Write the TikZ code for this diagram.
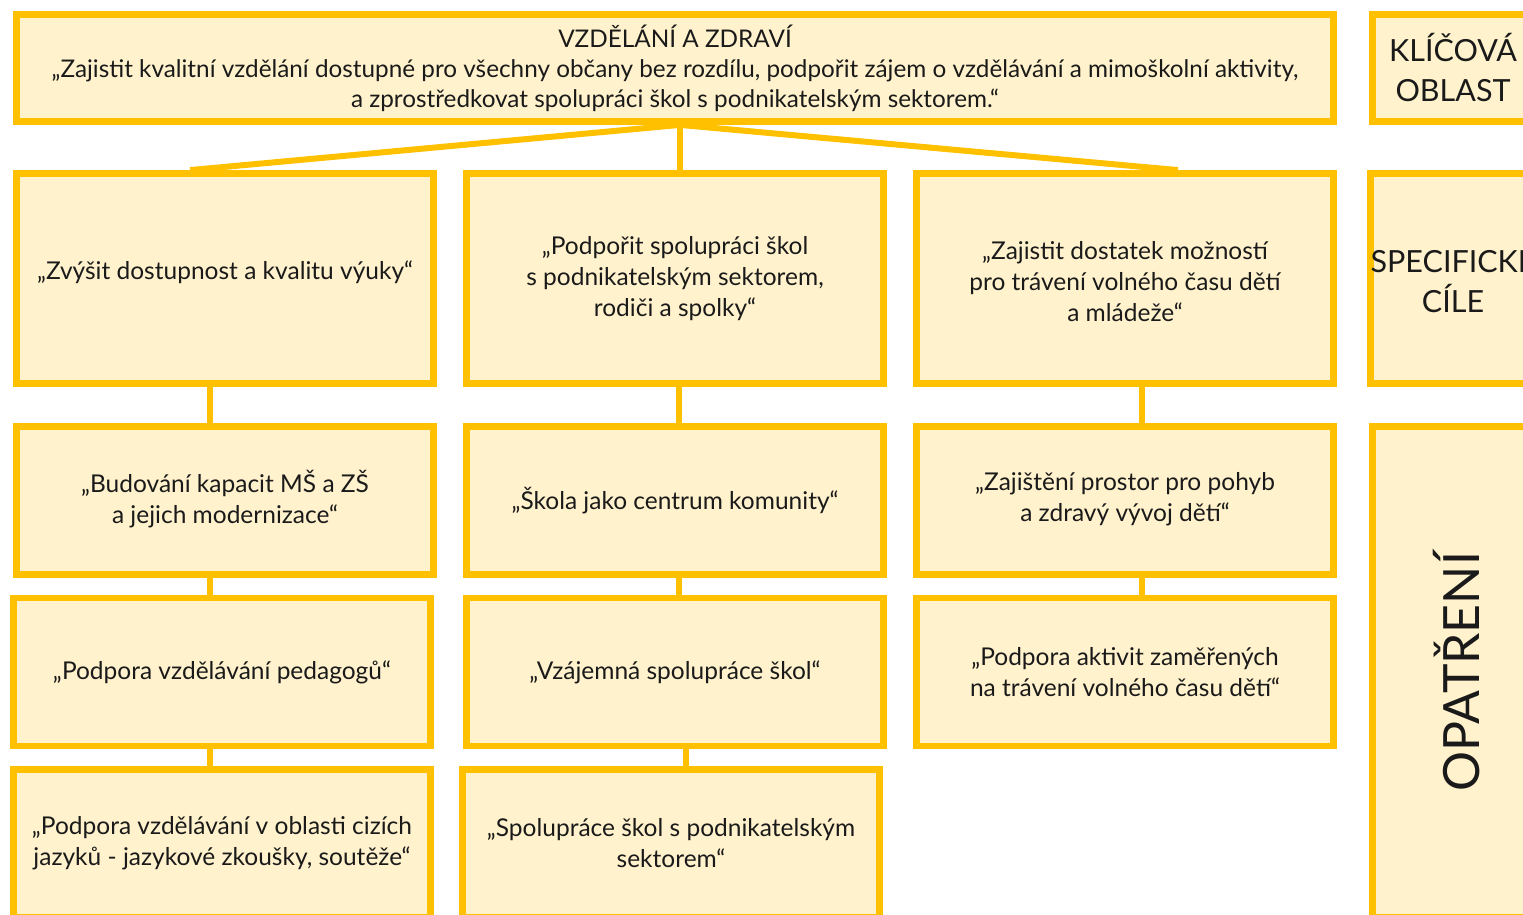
\documentclass[tikz,border=0pt]{standalone}
\usepackage{fontspec}
\setmainfont{Lato}
\usetikzlibrary{positioning, calc}
\definecolor{gold}{HTML}{FFC000}
\definecolor{cream}{HTML}{FFF2CC}
\definecolor{ink}{HTML}{1A1A1A}
\tikzset{
  box/.style={draw=gold, fill=cream, line width=6.8pt, align=center, inner sep=0pt, text=ink},
  goalbox/.style={box, minimum width=417pt, minimum height=210pt},
  actbox/.style={box, minimum width=417pt, minimum height=148pt},
  sidebox/.style={box, minimum width=161pt, font=\fontsize{30.5}{40}\selectfont},
  link/.style={draw=gold, line width=6pt}
}
\begin{document}
\begin{tikzpicture}[x=1pt, y=-1pt, font=\fontsize{24.5}{31}\selectfont]
\clip (0,0) rectangle (1523,915);
\node[box, minimum width=1317pt, minimum height=107pt, font=\fontsize{24.3}{30}\selectfont]
  (area) at (675,68)
  {VZDĚLÁNÍ A ZDRAVÍ\\
   „Zajistit kvalitní vzdělání dostupné pro všechny občany bez rozdílu, podpořit zájem o vzdělávání a mimoškolní aktivity,\\
   a zprostředkovat spolupráci škol s podnikatelským sektorem.“};
\node[sidebox, minimum height=107pt] (key) at (1453,68) {KLÍČOVÁ\\OBLAST};

% specific goals
\node[goalbox] (g1) at (225,278.5) {„Zvýšit dostupnost a kvalitu výuky“\\[-15pt]};
\node[goalbox] (g2) at (675,278.5)
  {„Podpořit spolupráci škol\\ s podnikatelským sektorem,\\ rodiči a spolky“};
\node[goalbox] (g3) at (1125,278.5)
  {\\[-6pt]„Zajistit dostatek možností\\ pro trávení volného času dětí\\ a mládeže“};
\node[sidebox, minimum height=210pt] (spec) at (1453,278.5) {SPECIFICKÉ\\CÍLE};

% measures
\node[actbox] (a11) at (225,500.5) {„Budování kapacit MŠ a ZŠ\\ a jejich modernizace“\\[-23pt]};
\node[actbox] (a12) at (222,672) {„Podpora vzdělávání pedagogů“};
\node[actbox] (a13) at (222,843.5)
  {„Podpora vzdělávání v oblasti cizích\\ jazyků - jazykové zkoušky, soutěže“};
\node[actbox] (a21) at (675,500.5) {„Škola jako centrum komunity“};
\node[actbox] (a22) at (675,672) {„Vzájemná spolupráce škol“};
\node[actbox] (a23) at (671,843.5)
  {„Spolupráce škol s podnikatelským\\ sektorem“};
\node[actbox] (a31) at (1125,500.5) {„Zajištění prostor pro pohyb\\ a zdravý vývoj dětí“\\[-23pt]};
\node[actbox] (a32) at (1125,672)
  {„Podpora aktivit zaměřených\\ na trávení volného času dětí“};
\node[sidebox, minimum height=491pt] (meas) at (1453,672) {};
\node[rotate=90, font=\fontsize{50}{60}\selectfont, text=ink]
  (measlab) at ($(meas.center)+(3.5,0)$) {OPATŘENÍ};

% connectors
\draw[link] ([xshift=5pt]area.south) -- ([xshift=5pt]area.south |- g2.north);
\draw[link] ([xshift=5pt]area.south) -- ([xshift=-35pt]g1.north);
\draw[link] ([xshift=5pt]area.south) -- ([xshift=53pt]g3.north);
\draw[link] ([xshift=-15pt]g1.south) -- ([xshift=-15pt]g1.south |- a11.north);
\draw[link] ([xshift=-15pt]a11.south) -- ([xshift=-15pt]a11.south |- a12.north);
\draw[link] ([xshift=-12pt]a12.south) -- ([xshift=-12pt]a12.south |- a13.north);
\draw[link] ([xshift=4pt]g2.south) -- ([xshift=4pt]g2.south |- a21.north);
\draw[link] ([xshift=4pt]a21.south) -- ([xshift=4pt]a21.south |- a22.north);
\draw[link] ([xshift=11pt]a22.south) -- ([xshift=11pt]a22.south |- a23.north);
\draw[link] ([xshift=17pt]g3.south) -- ([xshift=17pt]g3.south |- a31.north);
\draw[link] ([xshift=17pt]a31.south) -- ([xshift=17pt]a31.south |- a32.north);
\end{tikzpicture}
\end{document}
